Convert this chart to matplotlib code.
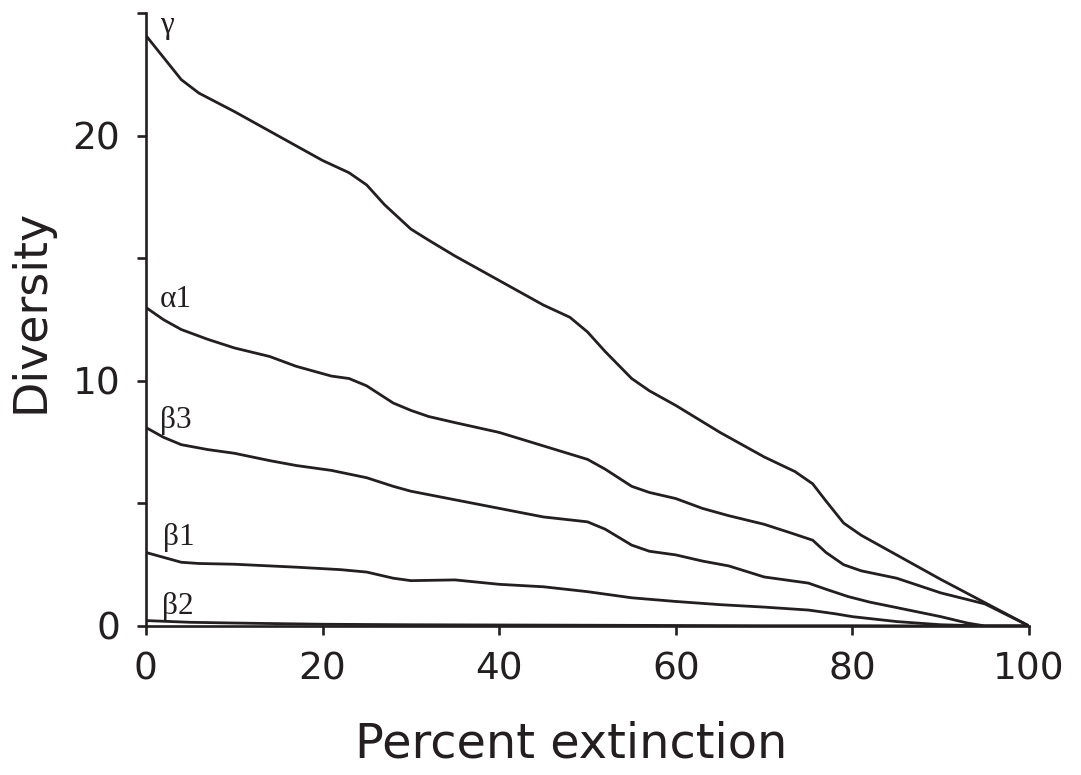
import numpy as np
import matplotlib
matplotlib.use('Agg')
import matplotlib.pyplot as plt
from matplotlib.ticker import MultipleLocator

# Diversity components vs. percent extinction
gamma_x = [0, 2, 4, 6, 10, 15, 20, 23, 25, 27, 30, 32, 35, 40, 45, 48, 50, 52,
           55, 57, 60, 65, 70, 73.5, 75.5, 77, 79, 81, 85, 90, 95, 100]
gamma_y = [24.1, 23.2, 22.3, 21.75, 21.0, 20.0, 19.0, 18.5, 18.0, 17.2, 16.2,
           15.75, 15.1, 14.1, 13.1, 12.6, 12.0, 11.2, 10.1, 9.6, 9.0, 7.9, 6.9,
           6.3, 5.8, 5.1, 4.2, 3.7, 2.9, 1.9, 0.95, 0.0]

alpha1_x = [0, 2, 4, 7, 10, 14, 17, 21, 23, 25, 28, 30, 32, 35, 40, 45, 50, 52,
            55, 57, 60, 63, 66, 70, 73, 75.5, 77, 79, 81, 85, 90, 95, 100]
alpha1_y = [13.0, 12.5, 12.1, 11.7, 11.35, 11.0, 10.6, 10.2, 10.1, 9.8, 9.1,
            8.8, 8.55, 8.3, 7.9, 7.35, 6.8, 6.4, 5.7, 5.45, 5.2, 4.8, 4.5, 4.15,
            3.8, 3.5, 3.0, 2.5, 2.25, 1.95, 1.35, 0.9, 0.0]

beta3_x = [0, 2, 4, 7, 10, 14, 17, 21, 25, 28, 30, 35, 40, 45, 50, 52, 55, 57,
           60, 63, 66, 70, 75, 77, 79.5, 82, 85, 90, 93, 95, 100]
beta3_y = [8.1, 7.7, 7.4, 7.2, 7.05, 6.75, 6.55, 6.35, 6.05, 5.7, 5.5, 5.15,
           4.8, 4.45, 4.25, 3.95, 3.3, 3.05, 2.9, 2.65, 2.45, 2.0, 1.75, 1.5,
           1.2, 0.97, 0.75, 0.38, 0.12, 0.0, 0.0]

beta1_x = [0, 2, 4, 6, 10, 17, 22, 25, 28, 30, 35, 40, 45, 50, 55, 60, 65, 70,
           75, 78, 80, 85, 90, 95, 100]
beta1_y = [3.0, 2.8, 2.6, 2.55, 2.52, 2.4, 2.3, 2.2, 1.95, 1.85, 1.88, 1.7, 1.6,
           1.4, 1.15, 1.0, 0.87, 0.77, 0.65, 0.5, 0.38, 0.18, 0.05, 0.0, 0.0]

beta2_x = [0, 5, 10, 20, 30, 40, 50, 60, 70, 80, 90, 100]
beta2_y = [0.22, 0.15, 0.12, 0.07, 0.05, 0.04, 0.03, 0.02, 0.01, 0.01, 0.0, 0.0]

series = [
    (gamma_x, gamma_y, 'γ', (1.6, 24.2)),
    (alpha1_x, alpha1_y, 'α1', (1.6, 13.0)),
    (beta3_x, beta3_y, 'β3', (1.6, 8.1)),
    (beta1_x, beta1_y, 'β1', (1.9, 3.3)),
    (beta2_x, beta2_y, 'β2', (1.8, 0.5)),
]

fig = plt.figure(figsize=(10.81, 7.75), dpi=100)
ax = fig.add_axes([0.135, 0.1923, 0.817, 0.7903])

ink = '#231f20'
for xs, ys, name, pos in series:
    ax.plot(xs, ys, color=ink, linewidth=2.0, solid_joinstyle='round')
    ax.text(pos[0], pos[1], name, fontsize=22.5, family='Liberation Serif',
            color=ink, ha='left', va='baseline')

ax.set_xlim(0, 100)
ax.set_ylim(0, 25)

ax.xaxis.set_major_locator(MultipleLocator(20))
ax.yaxis.set_major_locator(MultipleLocator(10))
ax.yaxis.set_minor_locator(MultipleLocator(5))

for side in ['top', 'right']:
    ax.spines[side].set_visible(False)
for side in ['left', 'bottom']:
    ax.spines[side].set_linewidth(1.9)
    ax.spines[side].set_color(ink)

ax.tick_params(which='both', direction='out', length=6.5, width=1.9,
               color=ink, labelcolor=ink, labelsize=27, pad=12)
ax.set_xlabel('Percent extinction', fontsize=34.5, color=ink, labelpad=24,
              x=0.482)
ax.set_ylabel('Diversity', fontsize=33, color=ink, labelpad=14)
ax.yaxis.set_label_coords(-0.105, 0.515)

plt.savefig('out.png', dpi=100)
plt.close()
